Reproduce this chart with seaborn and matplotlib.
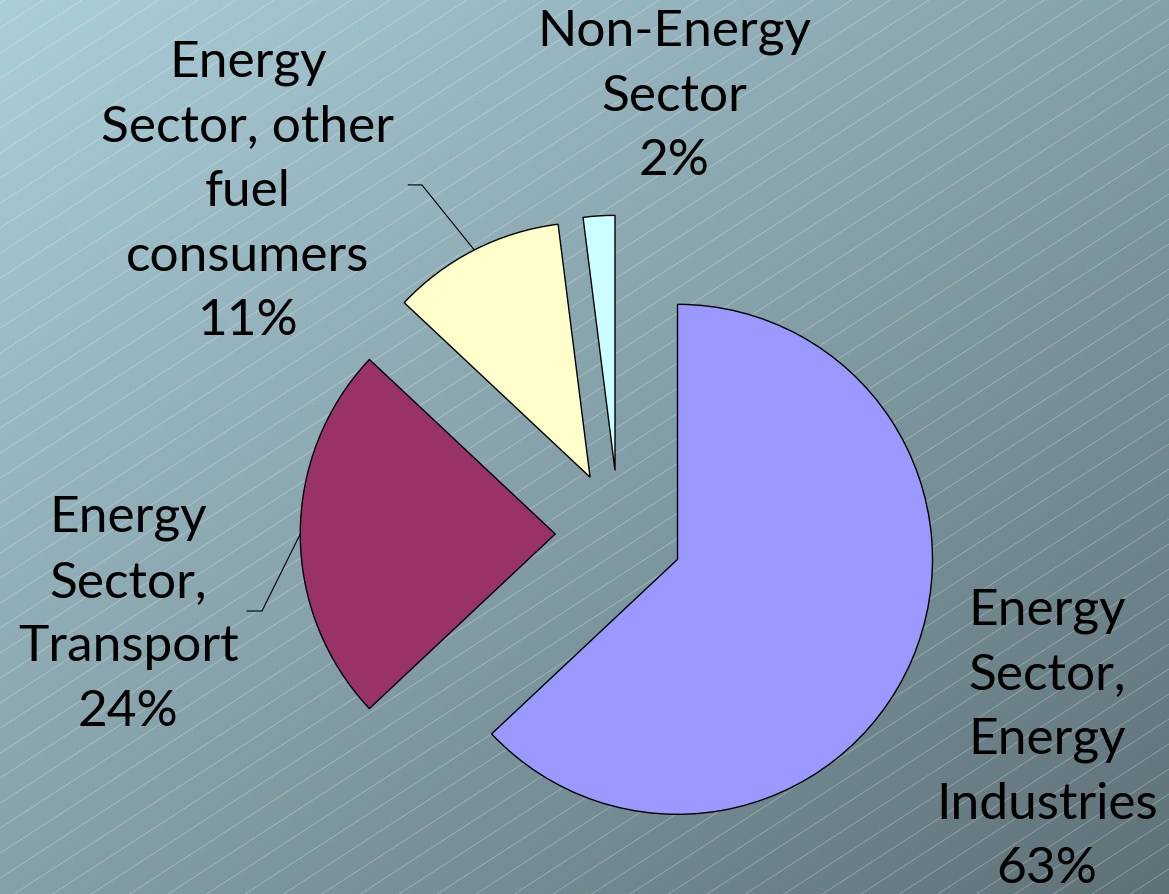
import numpy as np
import matplotlib.pyplot as plt
import seaborn as sns
from matplotlib.collections import LineCollection

# data (clockwise from 12 o'clock)
sectors = ["Energy\nSector,\nEnergy\nIndustries",
           "Energy\nSector,\nTransport",
           "Energy\nSector, other\nfuel\nconsumers",
           "Non-Energy\nSector"]
shares = [63, 24, 11, 2]
colors = ["#9999FF", "#993366", "#FFFFCC", "#CCFFFF"]

sns.set_theme(style="white")
plt.rcParams['font.family'] = ['Lato', 'DejaVu Sans']

W, H = 1169, 895
fig = plt.figure(figsize=(W / 100, H / 100), dpi=100)

# background: diagonal gradient with thin light stripes
bg = fig.add_axes([0, 0, 1, 1])
xx, yy = np.meshgrid(np.linspace(0, 1, 300), np.linspace(0, 1, 300))
t = (xx + yy) / 2
c0 = np.array([171, 207, 217]) / 255
c1 = np.array([94, 113, 119]) / 255
img = c0 + (c1 - c0) * t[..., None]
bg.imshow(img, extent=(0, W, 0, H), origin='upper', aspect='auto',
          interpolation='bilinear')
slope = np.tan(np.radians(33))
segs = [[(0, b), (W, b + W * slope)] for b in np.arange(-W * slope, H, 25)]
bg.add_collection(LineCollection(segs, colors='white', linewidths=0.5, alpha=0.35))
bg.set_xlim(0, W)
bg.set_ylim(0, H)
bg.axis('off')

# pie
ax = fig.add_axes([0, 0, 1, 1])
ax.set_facecolor('none')
wedges, _ = ax.pie(shares, colors=colors, startangle=90, counterclock=False,
                   explode=[0.25] * 4,
                   wedgeprops=dict(edgecolor='black', linewidth=1))
ax.set_xlim(-619 / 255, 550 / 255)
ax.set_ylim(-360 / 255, 535 / 255)
ax.set_aspect('auto')
ax.axis('off')

label_xy = [(1.678, -0.804), (-1.925, -0.314), (-1.455, 1.345), (0.216, 1.718)]
for name, pct, (x, y) in zip(sectors, shares, label_xy):
    ax.text(x, y, f"{name}\n{pct}%", ha='center', va='center', fontsize=37,
            linespacing=1.5, color='black')

# leader lines for the two left labels
leaders = {1: ((-1.400, -0.302), (-1.459, -0.302)),
           2: ((-0.773, 1.369), (-0.827, 1.369))}
for i, (elbow, end) in leaders.items():
    w = wedges[i]
    ang = np.radians((w.theta1 + w.theta2) / 2)
    px = w.center[0] + w.r * np.cos(ang)
    py = w.center[1] + w.r * np.sin(ang)
    ax.plot([px, elbow[0], end[0]], [py, elbow[1], end[1]], color='black', lw=0.8)

plt.savefig('out.png', dpi=100)
